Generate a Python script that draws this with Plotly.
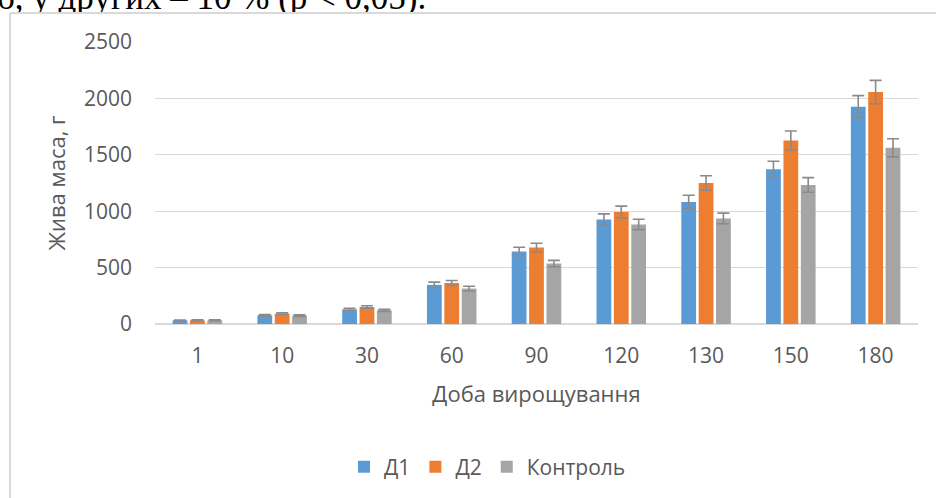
import plotly.graph_objects as go

days = ["1", "10", "30", "60", "90", "120", "130", "150", "180"]
d1 = [32, 77, 130, 347, 643, 927, 1082, 1372, 1926]
d2 = [33, 92, 151, 364, 678, 993, 1250, 1627, 2056]
ctrl = [33, 74, 121, 314, 536, 883, 936, 1233, 1562]
d1_err = [4, 7, 10, 24, 37, 49, 59, 71, 99]
d2_err = [4, 8, 11, 22, 38, 52, 64, 84, 104]
ctrl_err = [4, 7, 9, 21, 28, 46, 47, 65, 80]
series_names = ["Д1", "Д2", "Контроль"]
colors = ["#5B9BD5", "#ED7D31", "#A5A5A5"]
top_text = "б, у других – 10 % (р < 0,05)."

W, H = 936, 498
PLOT_L, PLOT_R, PLOT_T, PLOT_B = 155, 918, 42, 324
CLIP_B = 12  # the chart object covers the document text below this line


def px_x(x):
    return x / W


def px_y(y):
    return (H - y) / H


FONT = "Open Sans, Noto Sans, sans-serif"
TXT = "#595959"
FS = 21
FS_T = 22

fig = go.Figure()
for name, vals, errs, col in zip(series_names, [d1, d2, ctrl], [d1_err, d2_err, ctrl_err], colors):
    fig.add_trace(go.Bar(
        x=days, y=vals, name=name,
        marker=dict(color=col, line=dict(width=0)),
        error_y=dict(type="data", array=errs, visible=True,
                     color="#8A8A8A", thickness=1.6, width=6),
    ))

# cropped line of document text above the chart (clipped by its own subplot area)
fig.add_trace(go.Scatter(
    x=[-3], y=[17.75], mode="text", text=[top_text], textposition="top right",
    textfont=dict(family="Liberation Serif, Times New Roman, serif", size=35, color="black"),
    xaxis="x2", yaxis="y2", showlegend=False, hoverinfo="skip", cliponaxis=True,
))

fig.update_layout(
    width=W, height=H,
    margin=dict(l=0, r=0, t=0, b=0, autoexpand=False),
    paper_bgcolor="white", plot_bgcolor="white",
    barmode="group", bargap=0.385, bargroupgap=0.15,
    font=dict(family=FONT, size=FS, color=TXT),
    xaxis=dict(
        domain=[px_x(PLOT_L), px_x(PLOT_R)], anchor="y",
        type="category", showgrid=False, showline=False, ticks="",
        ticklabelstandoff=17,
        tickfont=dict(size=FS, color=TXT),
        title=dict(text="Доба вирощування", font=dict(size=FS_T, color=TXT), standoff=18),
    ),
    yaxis=dict(
        domain=[px_y(PLOT_B), px_y(PLOT_T)], anchor="x",
        range=[0, 2500], dtick=500, showgrid=True, gridcolor="#D9D9D9", gridwidth=1,
        zeroline=True, zerolinecolor="#D9D9D9", zerolinewidth=1.5,
        ticks="", ticklabelstandoff=22,
        tickfont=dict(size=FS, color=TXT),
        title=dict(text="Жива маса, г", font=dict(size=FS_T, color=TXT), standoff=12),
    ),
    xaxis2=dict(domain=[0, 1], range=[0, W], anchor="y2", visible=False, fixedrange=True),
    yaxis2=dict(domain=[px_y(CLIP_B), 1], range=[CLIP_B, 0], anchor="x2", visible=False,
                fixedrange=True),
    showlegend=True,
    legend=dict(
        orientation="h", x=px_x(344), xanchor="left", y=px_y(467), yanchor="middle",
        font=dict(size=FS, color=TXT), bgcolor="rgba(0,0,0,0)",
        itemclick=False, traceorder="normal",
    ),
    shapes=[
        dict(type="line", xref="paper", yref="paper", x0=px_x(10), x1=1.02,
             y0=px_y(13), y1=px_y(13), line=dict(color="#D9D9D9", width=2)),
        dict(type="line", xref="paper", yref="paper", x0=px_x(10), x1=px_x(10),
             y0=px_y(13), y1=-0.02, line=dict(color="#D9D9D9", width=2)),
    ],
)

fig.write_html("out.html", post_script="document.body.style.margin='0';",
               config={"displayModeBar": False})
